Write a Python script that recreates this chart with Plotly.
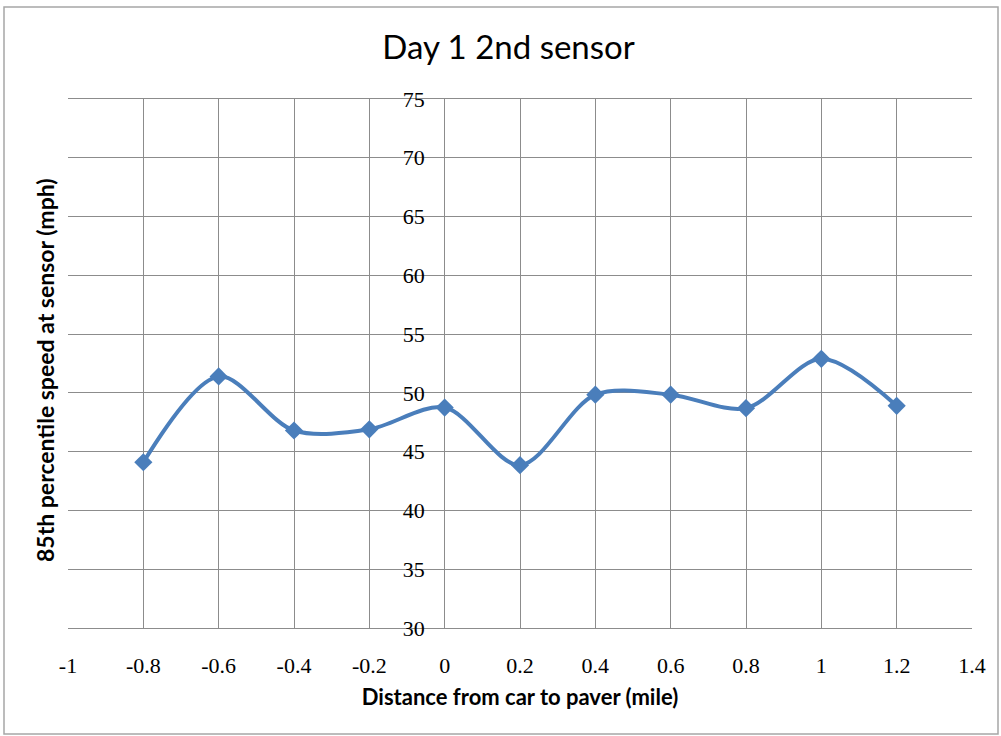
import plotly.graph_objects as go

distance = [-0.8, -0.6, -0.4, -0.2, 0, 0.2, 0.4, 0.6, 0.8, 1.0, 1.2]
speed = [44.1, 51.4, 46.8, 46.9, 48.75, 43.85, 49.85, 49.85, 48.7, 52.9, 48.9]

x_ticks = [-1, -0.8, -0.6, -0.4, -0.2, 0, 0.2, 0.4, 0.6, 0.8, 1, 1.2, 1.4]
y_ticks = [30, 35, 40, 45, 50, 55, 60, 65, 70, 75]

W, H = 1001, 736
L, R, T, B = 68, 29, 99, 108
pw, ph = W - L - R, H - T - B

grid = "#8c8c8c"
blue = "#4A7EBB"

fig = go.Figure()
fig.add_trace(go.Scatter(
    x=distance, y=speed, mode="lines+markers",
    line=dict(color=blue, width=4, shape="spline", smoothing=0.9),
    marker=dict(symbol="diamond", size=14, color=blue),
    showlegend=False,
))

yaxis_pos = (0 - x_ticks[0]) / (x_ticks[-1] - x_ticks[0])

fig.update_layout(
    width=W, height=H,
    margin=dict(l=L, r=R, t=T, b=B),
    paper_bgcolor="white", plot_bgcolor="white",
    title=dict(text="Day 1 2nd sensor", x=0.508, xanchor="center",
               y=1 - 47 / H, yanchor="middle",
               font=dict(family="Lato", size=33, color="black")),
    xaxis=dict(
        range=[x_ticks[0], x_ticks[-1]], tickvals=x_ticks,
        ticktext=[f"{v:g}" for v in x_ticks],
        showgrid=True, gridcolor=grid, gridwidth=1,
        zeroline=True, zerolinecolor=grid, zerolinewidth=1,
        showline=True, linecolor=grid, linewidth=1, mirror=True,
        ticks="", ticklabelstandoff=18,
        tickfont=dict(family="Liberation Serif", size=22, color="black"),
        title=dict(text="<b>Distance from car to paver (mile)</b>", standoff=12,
                   font=dict(family="Lato", size=22, color="black")),
    ),
    yaxis=dict(
        range=[y_ticks[0], y_ticks[-1]], tickvals=y_ticks,
        showgrid=True, gridcolor=grid, gridwidth=1,
        zeroline=False,
        anchor="free", position=yaxis_pos,
        ticks="", ticklabelstandoff=20,
        tickfont=dict(family="Liberation Serif", size=22, color="black"),
    ),
    annotations=[dict(
        text="<b>85th percentile speed at sensor (mph)</b>",
        xref="paper", yref="paper",
        x=(45 - L) / pw, y=(H - B - 370) / ph,
        xanchor="center", yanchor="middle", textangle=-90, showarrow=False,
        font=dict(family="Lato", size=23, color="black"),
    )],
    shapes=[
        dict(type="rect", xref="paper", yref="paper",
             x0=(4 - L) / pw, x1=(998 - L) / pw,
             y0=(H - B - 734) / ph, y1=(H - B - 7) / ph,
             line=dict(color="#a6a6a6", width=1.5), layer="below"),
    ],
)

fig.write_html("out.html")
